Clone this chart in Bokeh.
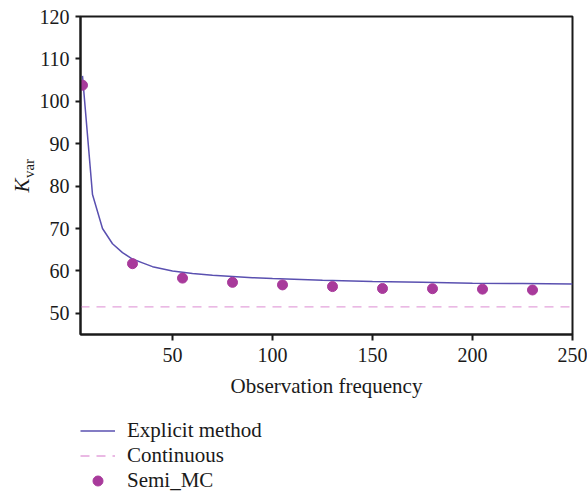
import numpy as np
from bokeh.plotting import figure
from bokeh.layouts import column, row
from bokeh.models import Range1d, Legend, LegendItem, FixedTicker
from bokeh.core.properties import value
from bokeh.embed import file_html
from bokeh.resources import INLINE

# Data
explicit_x = [5, 10, 15, 20, 25, 30, 35, 40, 50, 60, 70, 80, 90, 100, 125, 150, 175, 200, 225, 250]
explicit_y = [106.0, 78.0, 70.0, 66.4, 64.3, 62.8, 61.9, 61.0, 60.0, 59.4, 59.0, 58.7, 58.4, 58.2, 57.8, 57.5, 57.3, 57.1, 57.0, 56.9]
continuous_x = [4, 250]
continuous_y = [51.5, 51.5]
semi_x = [5, 30, 55, 80, 105, 130, 155, 180, 205, 230]
semi_y = [103.8, 61.7, 58.3, 57.3, 56.7, 56.3, 55.85, 55.8, 55.7, 55.5]
x_ticks = [50, 100, 150, 200, 250]
y_ticks = [50, 60, 70, 80, 90, 100, 110, 120]
series_names = ["Explicit method", "Continuous", "Semi_MC"]
y_title_main = "K"
y_title_sub = "var"

FONT = "Liberation Serif"
INK = "#1a1a1a"
C_LINE = "#5a50b0"
C_CONT = "#e3a3db"
C_SEMI = "#a83a9b"

TOP = 16
FRAME_H = 318
MAIN_H = 404
BOTTOM = MAIN_H - TOP - FRAME_H
LEFT_W = 36


def style_series(fig, xs1, ys1, xs2, ys2, xs3, ys3):
    r1 = fig.line(xs1, ys1, line_color=C_LINE, line_width=1.5)
    r2 = fig.line(xs2, ys2, line_color=C_CONT, line_width=1.3, line_dash="9 7")
    r3 = fig.scatter(xs3, ys3, size=10, marker="circle", fill_color=C_SEMI, line_color=C_SEMI)
    return r1, r2, r3


# ---------------- main plot ----------------
p = figure(frame_width=492, frame_height=FRAME_H, output_backend="svg", toolbar_location=None,
           x_range=Range1d(4, 250), y_range=Range1d(45, 120),
           min_border_left=80 - LEFT_W, min_border_right=15, min_border_top=TOP,
           min_border_bottom=BOTTOM)
p.grid.visible = False
p.outline_line_color = INK
p.outline_line_width = 2
p.border_fill_color = "white"

for ax in (p.xaxis[0], p.yaxis[0]):
    ax.axis_line_width = 2
    ax.axis_line_color = INK
    ax.major_tick_line_width = 2
    ax.major_tick_line_color = INK
    ax.major_tick_out = 6
    ax.major_tick_in = 0
    ax.minor_tick_line_color = None
    ax.major_label_text_font = FONT
    ax.major_label_text_font_size = "20px"
    ax.major_label_text_color = INK
    ax.axis_label_text_font = FONT
    ax.axis_label_text_font_style = "normal"
    ax.axis_label_text_font_size = "21px"
    ax.axis_label_text_color = INK

p.xaxis[0].ticker = FixedTicker(ticks=x_ticks)
p.yaxis[0].ticker = FixedTicker(ticks=y_ticks)
p.xaxis[0].major_label_standoff = 7
p.yaxis[0].major_label_standoff = 6
p.yaxis[0].major_tick_out = 5
p.xaxis[0].axis_label = "Observation frequency"
p.xaxis[0].axis_label_standoff = 9

style_series(p, explicit_x, explicit_y, continuous_x, continuous_y, semi_x, semi_y)

# ---------------- y-axis title panel (K_var), rotated text glyphs ----------------
# its frame is aligned with the main frame (16 .. 334 px from top)
yl = figure(width=LEFT_W, height=MAIN_H, output_backend="svg", toolbar_location=None,
            x_range=Range1d(0, LEFT_W), y_range=Range1d(0, FRAME_H),
            min_border_left=0, min_border_right=0, min_border_top=TOP, min_border_bottom=BOTTOM,
            x_axis_location=None, y_axis_location=None)
yl.grid.visible = False
yl.outline_line_color = None
yl.text(x=[21], y=[TOP + FRAME_H - 185], text=[y_title_main], angle=np.pi / 2,
        text_font=value(FONT), text_font_style="italic", text_font_size="21px",
        text_color=INK, text_baseline="middle", text_align="center")
yl.text(x=[28], y=[TOP + FRAME_H - 168], text=[y_title_sub], angle=np.pi / 2,
        text_font=value(FONT), text_font_size="15px",
        text_color=INK, text_baseline="middle", text_align="center")

# ---------------- legend panel ----------------
LEG_H = 493 - MAIN_H
lg = figure(width=587, height=LEG_H, output_backend="svg", toolbar_location=None,
            x_range=Range1d(1000, 1001), y_range=Range1d(1000, 1001), min_border=0,
            x_axis_location=None, y_axis_location=None)
lg.grid.visible = False
lg.outline_line_color = None
r1, r2, r3 = style_series(lg, explicit_x, explicit_y, continuous_x, continuous_y, semi_x, semi_y)

legend = Legend(items=[LegendItem(label=series_names[0], renderers=[r1]),
                       LegendItem(label=series_names[1], renderers=[r2]),
                       LegendItem(label=series_names[2], renderers=[r3])],
                location=(80, 0), orientation="vertical")
legend.border_line_color = None
legend.background_fill_alpha = 0
legend.padding = 0
legend.margin = 0
legend.spacing = 0
legend.glyph_width = 35
legend.glyph_height = 25
legend.label_height = 25
legend.label_standoff = 12
legend.label_text_font = FONT
legend.label_text_font_size = "21px"
legend.label_text_color = INK
legend.label_text_baseline = "middle"
lg.add_layout(legend)

layout = column(row(yl, p), lg)
open("out.html", "w").write(file_html(layout, INLINE))
